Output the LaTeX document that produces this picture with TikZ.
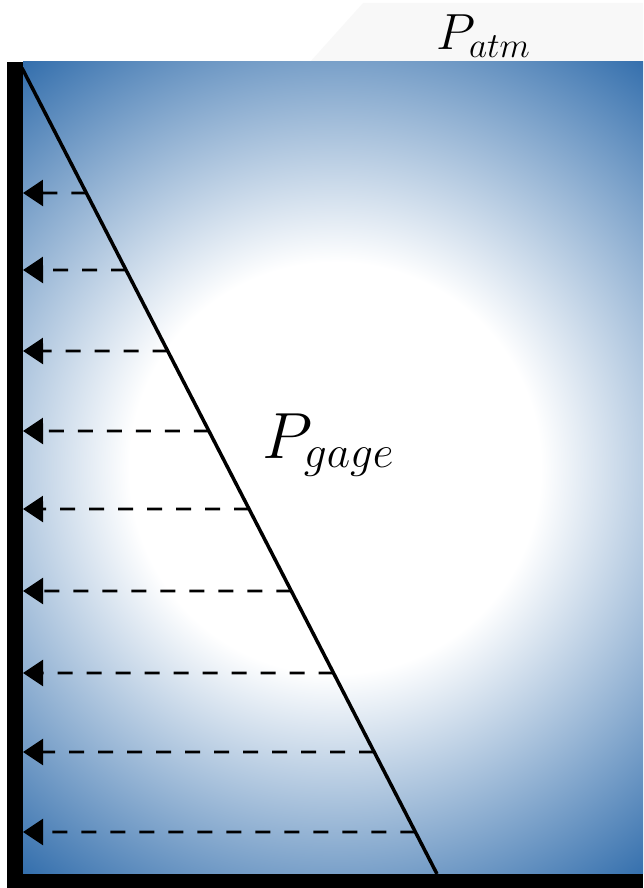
\documentclass[tikz,border=0pt]{standalone}
\usepackage{tikz}
\usetikzlibrary{arrows.meta, calc}
\definecolor{waterblue}{RGB}{45,106,170}
\definecolor{airgray}{RGB}{248,248,248}
\pgfdeclareradialshading{waterglow}{\pgfpoint{0bp}{0bp}}{color(0bp)=(white); color(205bp)=(white); color(520bp)=(waterblue); color(600bp)=(waterblue)}

\begin{document}
\begin{tikzpicture}[
  x=1pt, y=1pt,
  wall/.style={fill=black},
  slope/.style={line width=3.5pt, black},
  push/.style={-{Triangle[length=20pt, width=26pt]}, line width=2.6pt,
               dash pattern=on 15pt off 14pt},
  pname/.style={inner sep=0pt, font=\huge}
]
  \useasboundingbox (0,0) rectangle (643,888);

  % air above the water
  \fill[airgray] (310,826) -- (363,885) -- (643,885) -- (643,826) -- cycle;

  % water body
  \begin{scope}
    \clip (23,14) rectangle (643,826);
    \node[inner sep=0pt] (glow) at (335,420) {\pgfuseshading{waterglow}};
  \end{scope}

  % tank wall and floor
  \fill[wall] (7,0) rectangle (23,826);
  \fill[wall] (7,0) rectangle (643,14);

  % pressure distribution
  \coordinate (ptop)  at (22,820);
  \coordinate (pfoot) at (437,14);
  \draw[slope] (ptop) -- (pfoot);

  \foreach \y in {695,618,537,457,379,297,215,136,56} {
    \coordinate (load\y) at ($(ptop)!{(820-\y)/806}!(pfoot)$);
    \coordinate (face\y) at (23,\y);
    \draw[push] (load\y) -- (face\y);
  }

  \node[pname, scale=3.15] (gage) at (329,443) {$P_{gage}$};
  \node[pname, scale=2.45] (atm)  at (484,852) {$P_{atm}$};
\end{tikzpicture}
\end{document}
